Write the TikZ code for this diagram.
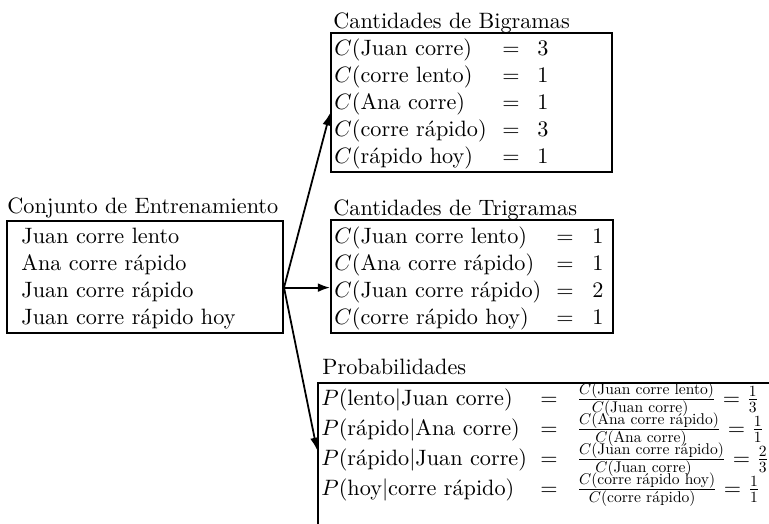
\documentclass[tikz,border=0pt]{standalone}
\usepackage{amsmath}
\usepackage{graphicx}
\usetikzlibrary{arrows.meta,calc,fit}
\newcommand{\myfrac}[2]{\genfrac{}{}{}{1}{\scalebox{0.7}{$#1$}}{\scalebox{0.7}{$#2$}}}
\begin{document}
\begin{tikzpicture}[x=0.45pt,y=-0.45pt,
  box/.style={draw,line width=0.9pt,inner sep=0pt},
  ttl/.style={anchor=base west,inner sep=0pt},
  txt/.style={anchor=base west,inner sep=0pt},
  eqc/.style={anchor=base,inner sep=0pt},
  arr/.style={line width=0.8pt,-{Latex[length=5.5pt,width=4pt]}}]
\useasboundingbox (0,0) rectangle (769,523);
\clip (0,0) rectangle (769,523);

% ---------- training set
\node[ttl] (ttrain) at (7,213) {Conjunto de Entrenamiento};
\coordinate (tra) at (7,221);
\coordinate (trb) at (283,333);
\node[box,fit=(tra)(trb)] (train) {};
\node[txt] (a1) at (21,243) {Juan corre lento};
\node[txt] (a2) at (21,270) {Ana corre rápido};
\node[txt] (a3) at (21,297) {Juan corre rápido};
\node[txt] (a4) at (21,324) {Juan corre rápido hoy};

% ---------- bigrams
\node[ttl] (tbi) at (333,28) {Cantidades de Bigramas};
\coordinate (bia) at (331,33);
\coordinate (bib) at (612,172);
\node[box,fit=(bia)(bib)] (bi) {};
\foreach \y/\t/\n [count=\i] in {55/Juan corre/3,82/corre lento/1,109/Ana corre/1,136/corre rápido/3,163/rápido hoy/1}{
  \node[txt] (bl\i) at (334,\y) {$C(\text{\t})$};
  \node[eqc] (be\i) at (511,\y) {$=$};
  \node[eqc] (bn\i) at (543,\y) {$\n$};
}

% ---------- trigrams
\node[ttl] (ttri) at (333,215) {Cantidades de Trigramas};
\coordinate (tria) at (331,220);
\coordinate (trib) at (613,333);
\node[box,fit=(tria)(trib)] (tri) {};
\foreach \y/\t/\n [count=\i] in {243/Juan corre lento/1,270/Ana corre rápido/1,297/Juan corre rápido/2,324/corre rápido hoy/1}{
  \node[txt] (tl\i) at (334,\y) {$C(\text{\t})$};
  \node[eqc] (te\i) at (565,\y) {$=$};
  \node[eqc] (tn\i) at (598,\y) {$\n$};
}

% ---------- probabilities
\node[ttl] (tprob) at (322,374) {Probabilidades};
\coordinate (pra) at (318,383);
\coordinate (prb) at (790,540);
\node[box,fit=(pra)(prb)] (prob) {};
\node[txt] (pl1) at (321,405) {$P(\text{lento}|\text{Juan corre})$};
\node[txt] (pl2) at (321,435) {$P(\text{rápido}|\text{Ana corre})$};
\node[txt] (pl3) at (321,465) {$P(\text{rápido}|\text{Juan corre})$};
\node[txt] (pl4) at (321,495) {$P(\text{hoy}|\text{corre rápido})$};
\foreach \y [count=\i] in {405,435,465,495}{
  \node[eqc] (pe\i) at (549,\y) {$=$};
}
\node[txt] (pf1) at (576,405) {$\myfrac{C(\text{Juan corre lento})}{C(\text{Juan corre})}=\myfrac{1}{3}$};
\node[txt] (pf2) at (576,435) {$\myfrac{C(\text{Ana corre rápido})}{C(\text{Ana corre})}=\myfrac{1}{1}$};
\node[txt] (pf3) at (576,465) {$\myfrac{C(\text{Juan corre rápido})}{C(\text{Juan corre})}=\myfrac{2}{3}$};
\node[txt] (pf4) at (576,495) {$\myfrac{C(\text{corre rápido hoy})}{C(\text{corre rápido})}=\myfrac{1}{1}$};

% ---------- arrows
\coordinate (o) at ($(train.north east)!0.593!(train.south east)$);
\draw[arr] (o) -- ($(bi.north west)!0.576!(bi.south west)$);
\draw[arr] (o) -- (o -| tri.west);
\draw[arr] (o) -- ($(prob.north west)!0.427!(prob.south west)$);
\end{tikzpicture}
\end{document}
